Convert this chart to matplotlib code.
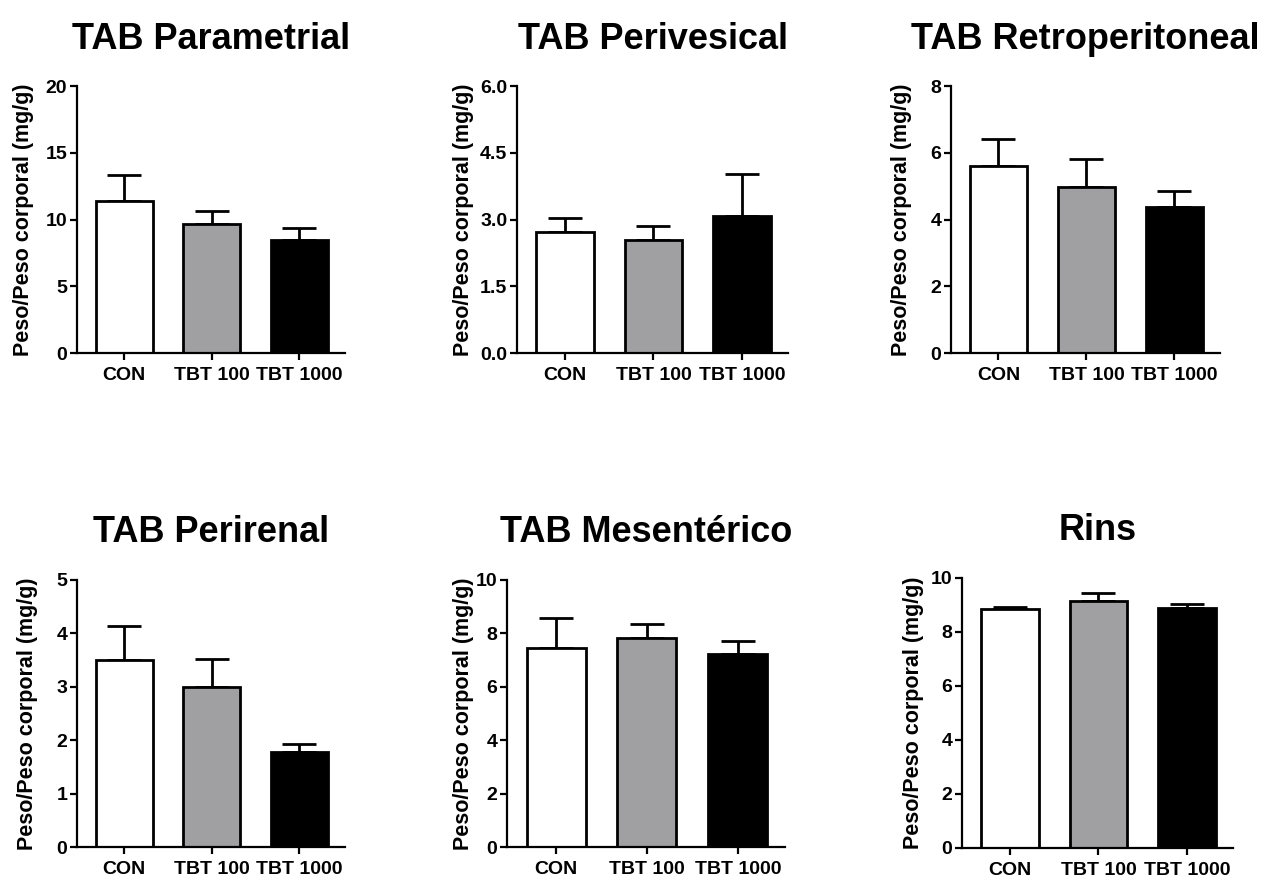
import matplotlib
matplotlib.use("Agg")
import matplotlib.pyplot as plt

plt.rcParams['font.family'] = ['Liberation Sans', 'DejaVu Sans']
plt.rcParams['font.weight'] = 'bold'

groups = ['CON', 'TBT 100', 'TBT 1000']
colors = ['white', '#a0a0a2', 'black']

titles = ['TAB Parametrial', 'TAB Perivesical', 'TAB Retroperitoneal',
          'TAB Perirenal', 'TAB Mesentérico', 'Rins']

parametrial = [11.4, 9.7, 8.5]
parametrial_err = [1.9, 0.9, 0.9]
perivesical = [2.72, 2.54, 3.08]
perivesical_err = [0.31, 0.32, 0.94]
retroperitoneal = [5.6, 4.97, 4.37]
retroperitoneal_err = [0.8, 0.85, 0.48]
perirenal = [3.5, 3.0, 1.78]
perirenal_err = [0.64, 0.52, 0.15]
mesenterico = [7.47, 7.84, 7.24]
mesenterico_err = [1.11, 0.52, 0.48]
rins = [8.86, 9.15, 8.89]
rins_err = [0.07, 0.29, 0.15]

means = [parametrial, perivesical, retroperitoneal, perirenal, mesenterico, rins]
errs = [parametrial_err, perivesical_err, retroperitoneal_err,
        perirenal_err, mesenterico_err, rins_err]
yticks = [[0, 5, 10, 15, 20], [0.0, 1.5, 3.0, 4.5, 6.0], [0, 2, 4, 6, 8],
          [0, 1, 2, 3, 4, 5], [0, 2, 4, 6, 8, 10], [0, 2, 4, 6, 8, 10]]
tick_fmt = ['{:g}', '{:.1f}', '{:g}', '{:g}', '{:g}', '{:g}']

# axes boxes in pixels: left, right, top, bottom
boxes = [(77, 345, 86, 353), (517, 788, 86, 353), (951, 1220, 86, 353),
         (77, 345, 580, 847), (507, 785, 580, 847), (962, 1233, 578, 848)]
# y label centre, pixels left of the y axis
label_off = [53, 53, 50, 49, 43, 49]

W, H = 1269, 877
fig = plt.figure(figsize=(W / 100, H / 100), dpi=100)

for i in range(6):
    l, r, t, b = boxes[i]
    ax = fig.add_axes([l / W, 1 - b / H, (r - l) / W, (b - t) / H])
    x = range(len(groups))
    ax.bar(x, means[i], width=0.65, color=colors, edgecolor='black',
           linewidth=2, zorder=2)
    ax.errorbar(x, means[i], yerr=[[0, 0, 0], errs[i]], fmt='none',
                ecolor='black', elinewidth=2, capsize=12, capthick=2, zorder=1)
    ax.set_xlim(-0.54, 2.52)
    ax.set_ylim(yticks[i][0], yticks[i][-1])
    ax.set_yticks(yticks[i])
    ax.set_yticklabels([tick_fmt[i].format(v) for v in yticks[i]])
    ax.set_xticks(list(x))
    ax.set_xticklabels(groups)
    for s in ['top', 'right']:
        ax.spines[s].set_visible(False)
    for s in ['left', 'bottom']:
        ax.spines[s].set_linewidth(1.6)
    ax.tick_params(axis='both', width=1.6, length=5, labelsize=14)
    ax.tick_params(axis='y', pad=2)
    ax.tick_params(axis='x', pad=5)
    ax.set_ylabel('Peso/Peso corporal (mg/g)', fontsize=15.5, fontweight='bold',
                  va='center')
    ax.yaxis.set_label_coords(-label_off[i] / (r - l), 0.5)
    ax.set_title(titles[i], fontsize=26, fontweight='bold', pad=27)

fig.savefig('out.png', dpi=100)
